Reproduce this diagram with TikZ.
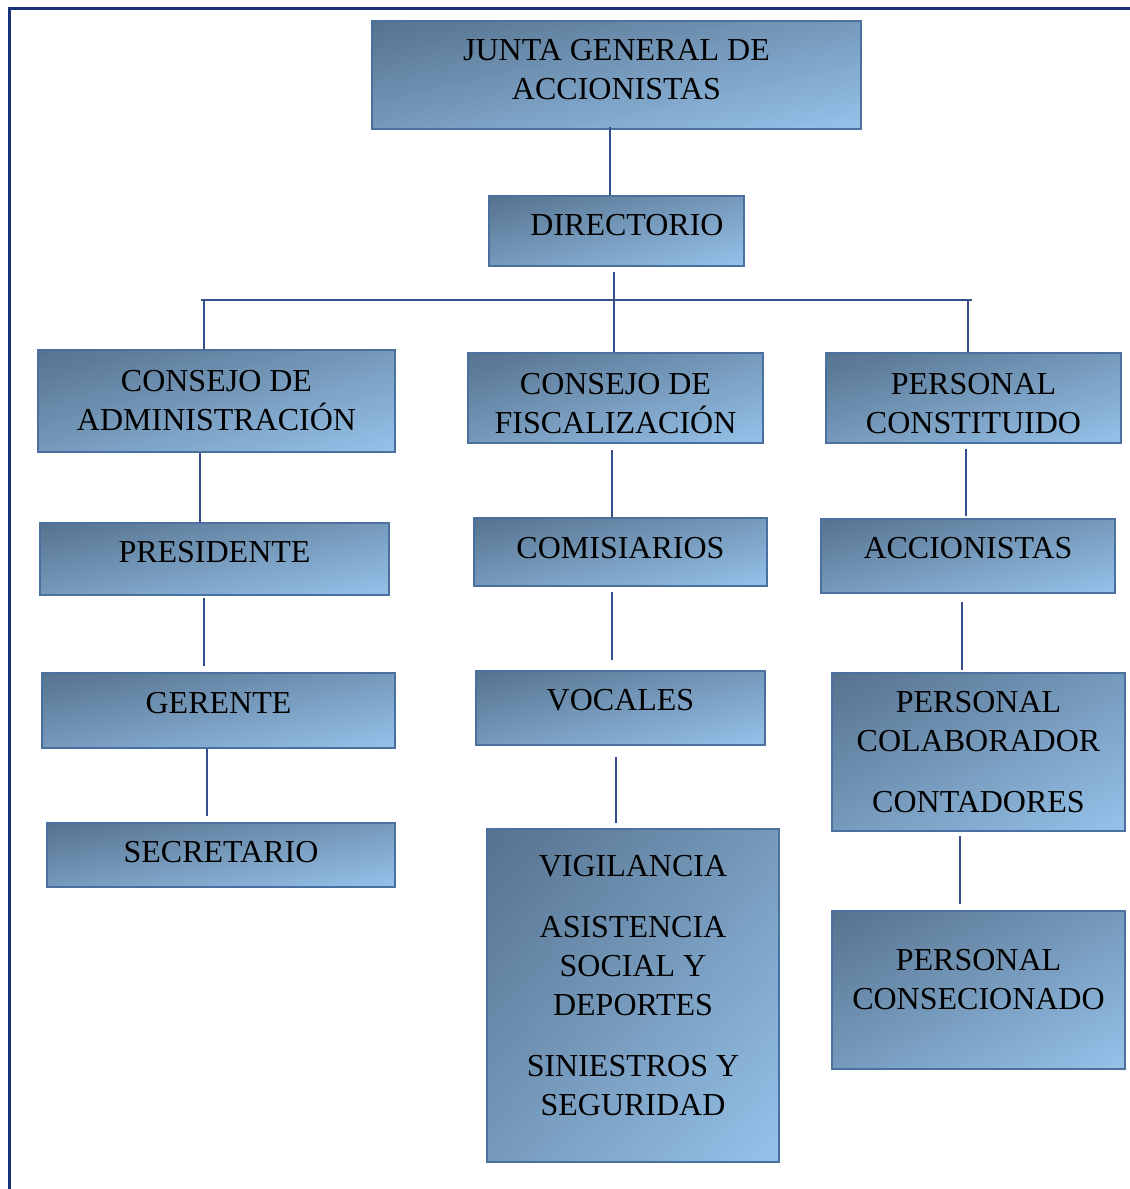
\documentclass[tikz,border=0pt]{standalone}
\usepackage{fontspec}
\setmainfont{Liberation Serif}
\usepackage{tikz}
\usetikzlibrary{calc}

\definecolor{boxdark}{RGB}{86,114,142}
\definecolor{boxlight}{RGB}{150,194,234}
\definecolor{boxline}{RGB}{74,112,160}
\definecolor{connline}{RGB}{52,80,140}
\definecolor{frameline}{RGB}{22,52,118}

% diagonal fill: dark top left, light bottom right, stretched to the box
\pgfdeclareverticalshading{boxshade}{100bp}{color(0bp)=(boxlight); color(100bp)=(boxdark)}
\newdimen\shadew
\newdimen\shadeh
\makeatletter
\newcommand{\diagshade}{%
  \pgfpointdiff{\pgfpointanchor{path picture bounding box}{south west}}%
               {\pgfpointanchor{path picture bounding box}{north east}}%
  \shadew=\pgf@x \shadeh=\pgf@y
  \pgfmathsetmacro{\shadesx}{\shadew/100bp}%
  \pgfmathsetmacro{\shadesy}{\shadeh/100bp}%
  \pgftransformshift{\pgfpointanchor{path picture bounding box}{center}}%
  \pgftransformxscale{\shadesx}%
  \pgftransformyscale{\shadesy}%
  \pgftransformscale{1.42}%
  \pgftransformrotate{45}%
  \pgflowlevelsynccm
  \pgfuseshading{boxshade}%
}
\makeatother

\tikzset{
  box/.style={draw=boxline, line width=2pt, rectangle, align=center,
    path picture={\diagshade},
    font=\fontsize{32}{39}\selectfont, inner sep=0pt},
  conn/.style={draw=connline, line width=1.6pt},
  frame/.style={draw=frameline, line width=3pt}
}

\begin{document}
\begin{tikzpicture}[x=1pt,y=-1pt]
  \useasboundingbox (0,0) rectangle (1130,1189);
  % outer frame (left and top only)
  \draw[frame] (9,1189) -- (9,8) -- (1130,8);

  % Top
  \node[box,minimum width=489,minimum height=108,text depth=11] (junta) at (616.5,75) {JUNTA GENERAL DE\\ACCIONISTAS};
  \node[box,minimum width=255,minimum height=70,text depth=12] (dir) at (616.5,231) {\hspace{21pt}DIRECTORIO};

  % Three branches
  \node[box,minimum width=357,minimum height=102] (adm) at (216.5,401) {CONSEJO DE\\ADMINISTRACIÓN};
  \node[box,minimum width=295,minimum height=90] (fisc) at (615.5,398) {\rule{0pt}{33pt}CONSEJO DE\\FISCALIZACIÓN};
  \node[box,minimum width=295,minimum height=90] (const) at (973.5,398) {\rule{0pt}{33pt}PERSONAL\\CONSTITUIDO};

  % Left column
  \node[box,minimum width=349,minimum height=72,text depth=14] (pres) at (214.5,559) {PRESIDENTE};
  \node[box,minimum width=353,minimum height=75,text depth=15] (ger) at (218.5,710.5) {GERENTE};
  \node[box,minimum width=348,minimum height=64,text depth=6] (sec) at (221,855) {SECRETARIO};

  % Middle column
  \node[box,minimum width=293,minimum height=68,text depth=8] (com) at (620.5,552) {COMISIARIOS};
  \node[box,minimum width=289,minimum height=74,text depth=16] (voc) at (620.5,708) {VOCALES};
  \node[box,minimum width=292,minimum height=333,text depth=20] (vig) at (633,995.5)
    {VIGILANCIA\\[22pt]ASISTENCIA\\SOCIAL Y\\DEPORTES\\[22pt]SINIESTROS Y\\SEGURIDAD};

  % Right column
  \node[box,minimum width=294,minimum height=74,text depth=16] (acc) at (968,556) {ACCIONISTAS};
  \node[box,minimum width=293,minimum height=158] (colab) at (978.5,752) {PERSONAL\\COLABORADOR\\[22pt]CONTADORES};
  \node[box,minimum width=293,minimum height=158,text depth=22] (conces) at (978.5,990) {PERSONAL\\CONSECIONADO};

  % Connectors
  \coordinate (busL) at (201,300);
  \coordinate (busR) at (972,300);
  \draw[conn] ([xshift=-6.5pt,yshift=3pt]junta.south) -- ([xshift=-6.5pt]junta.south |- dir.north);
  \draw[conn] ([xshift=-2.5pt,yshift=-5pt]dir.south) -- ([xshift=-2.5pt]dir.south |- fisc.north);
  \draw[conn] (busL) -- (busR);
  \draw[conn] ([xshift=-12.5pt]adm.north |- busL) -- ([xshift=-12.5pt]adm.north);
  \draw[conn] ([xshift=-5.5pt]const.north |- busR) -- ([xshift=-5.5pt]const.north);

  \draw[conn] ([xshift=-16.5pt]adm.south) -- ([xshift=-16.5pt]adm.south |- pres.north);
  \draw[conn,shorten <=2pt,shorten >=6pt] ([xshift=-10.5pt]pres.south) -- ([xshift=-10.5pt]pres.south |- ger.north);
  \draw[conn,shorten >=6pt] ([xshift=-11.5pt]ger.south) -- ([xshift=-11.5pt]ger.south |- sec.north);

  \draw[conn,shorten <=6pt] ([xshift=-3.5pt]fisc.south) -- ([xshift=-3.5pt]fisc.south |- com.north);
  \draw[conn,shorten <=5pt,shorten >=10pt] ([xshift=-8.5pt]com.south) -- ([xshift=-8.5pt]com.south |- voc.north);
  \draw[conn,shorten <=11pt,shorten >=5pt] ([xshift=-4.5pt]voc.south) -- ([xshift=-4.5pt]voc.south |- vig.north);

  \draw[conn,shorten <=5pt,shorten >=2pt] ([xshift=-7.5pt]const.south) -- ([xshift=-7.5pt]const.south |- acc.north);
  \draw[conn,shorten <=8pt,shorten >=2pt] ([xshift=-6pt]acc.south) -- ([xshift=-6pt]acc.south |- colab.north);
  \draw[conn,shorten <=4pt,shorten >=6pt] ([xshift=-18.5pt]colab.south) -- ([xshift=-18.5pt]colab.south |- conces.north);
\end{tikzpicture}
\end{document}
